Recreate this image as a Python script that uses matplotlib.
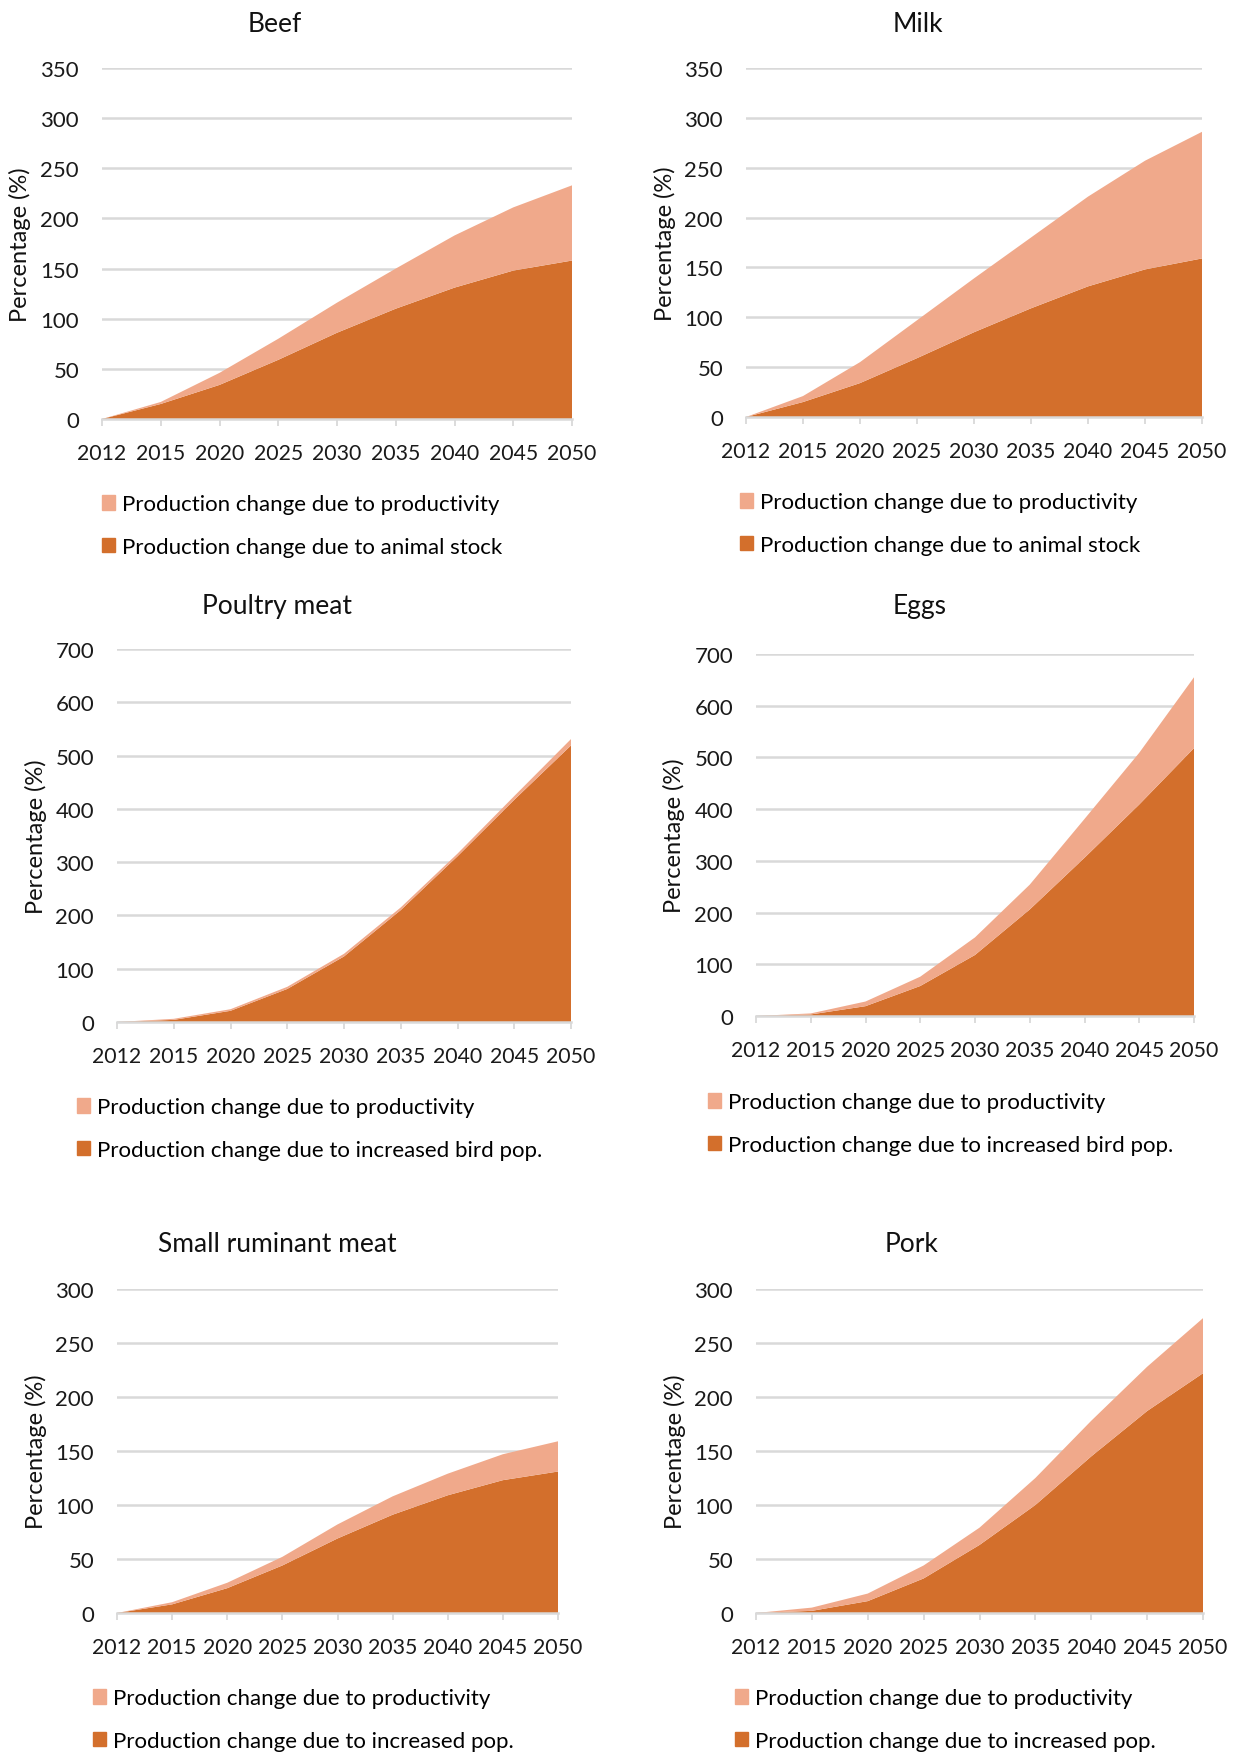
import matplotlib.pyplot as plt
from matplotlib.patches import Patch

plt.rcParams['font.family'] = ['Lato', 'DejaVu Sans']

# data (percent change vs 2012)
years = ['2012', '2015', '2020', '2025', '2030', '2035', '2040', '2045', '2050']

beef_stock = [0, 15, 34, 59, 86, 110, 131, 148, 158]
beef_prod = [0, 2, 12, 21, 30, 40, 52, 63, 75]

milk_stock = [0, 15, 34, 59, 85, 109, 131, 148, 159]
milk_prod = [0, 6, 21, 38, 54, 71, 90, 109, 127]

poultry_stock = [0, 4, 21, 62, 123, 210, 311, 417, 519]
poultry_prod = [0, 2, 3, 4, 5, 5, 5, 7, 12]

eggs_stock = [0, 3, 19, 58, 118, 206, 306, 409, 518]
eggs_prod = [0, 2, 9, 18, 34, 48, 75, 100, 137]

small_stock = [0, 8, 23, 44, 69, 91, 109, 123, 131]
small_prod = [0, 2, 5, 8, 13, 17, 20, 24, 28]

pork_stock = [0, 2, 11, 32, 63, 100, 145, 187, 222]
pork_prod = [0, 3, 7, 12, 16, 25, 33, 41, 51]

prod_label = 'Production change due to productivity'

DARK = '#D36F2C'
LIGHT = '#F0A98B'
GRID = '#D9D9D9'
FS = 16
FS_PX = FS * 100 / 72

W, H = 1239, 1758
fig = plt.figure(figsize=(W / 100, H / 100), dpi=100)


def panel(title, stock, prod, stock_label, ymax, step,
          box, title_pos, ylab_x, leg_pos):
    # box = left, right, bottom (y of 0), top (y of ymax) in pixels
    l, r, b, t = box
    ax = fig.add_axes([l / W, 1 - b / H, (r - l) / W, (b - t) / H])
    x = range(len(years))
    ax.stackplot(x, stock, prod, colors=[DARK, LIGHT], linewidth=0, zorder=2)
    ax.set_xlim(0, len(years) - 1)
    ax.set_ylim(0, ymax)
    ax.set_xticks(list(x))
    ax.set_xticklabels(years)
    ax.set_yticks(range(0, ymax + 1, step))
    ax.yaxis.grid(True, color=GRID, linewidth=1.8, zorder=0)
    ax.set_axisbelow(True)
    for s in ['top', 'right', 'left']:
        ax.spines[s].set_visible(False)
    ax.spines['bottom'].set_color(GRID)
    ax.spines['bottom'].set_linewidth(1.8)
    ax.spines['bottom'].set_zorder(3)
    ax.tick_params(axis='y', length=0, pad=16.5, labelsize=FS, labelcolor='#1a1a1a')
    ax.tick_params(axis='x', length=5, width=1.3, color=GRID, pad=12.5,
                   labelsize=15.3, labelcolor='#1a1a1a')

    fig.text(title_pos[0] / W, 1 - title_pos[1] / H, title, ha='center',
             va='baseline', fontsize=19, color='#111111')
    fig.text(ylab_x / W, 1 - (b + t) / 2 / H, 'Percentage (%)', rotation=90,
             ha='center', va='center', fontsize=17, color='#111111')

    handles = [Patch(color=LIGHT, label=prod_label),
               Patch(color=DARK, label=stock_label)]
    # leg_pos = patch left x, baseline of first row (pixels)
    fig.legend(handles=handles, loc='upper left',
               bbox_to_anchor=(leg_pos[0] / W, 1 - (leg_pos[1] - 0.75 * FS_PX) / H),
               frameon=False, borderpad=0, borderaxespad=0,
               handlelength=0.6, handleheight=0.6, handletextpad=0.3,
               labelspacing=1.03, fontsize=FS)
    return ax


panel('Beef', beef_stock, beef_prod, 'Production change due to animal stock',
      350, 50, (102, 572, 420, 69), (275, 32), 20, (102, 512))
panel('Milk', milk_stock, milk_prod, 'Production change due to animal stock',
      350, 50, (746, 1202, 418, 69), (918, 32), 665, (740, 510))
panel('Poultry meat', poultry_stock, poultry_prod,
      'Production change due to increased bird pop.',
      700, 100, (117, 571, 1023, 650), (277, 614), 36, (77, 1115))
panel('Eggs', eggs_stock, eggs_prod,
      'Production change due to increased bird pop.',
      700, 100, (756, 1194, 1017, 655), (920, 614), 674, (708, 1110))
panel('Small ruminant meat', small_stock, small_prod,
      'Production change due to increased pop.',
      300, 50, (117, 558, 1614, 1290), (277, 1252), 36, (93, 1706))
panel('Pork', pork_stock, pork_prod,
      'Production change due to increased pop.',
      300, 50, (756, 1203, 1614, 1290), (912, 1252), 675, (735, 1706))

fig.savefig('out.png', dpi=100, facecolor='white')
